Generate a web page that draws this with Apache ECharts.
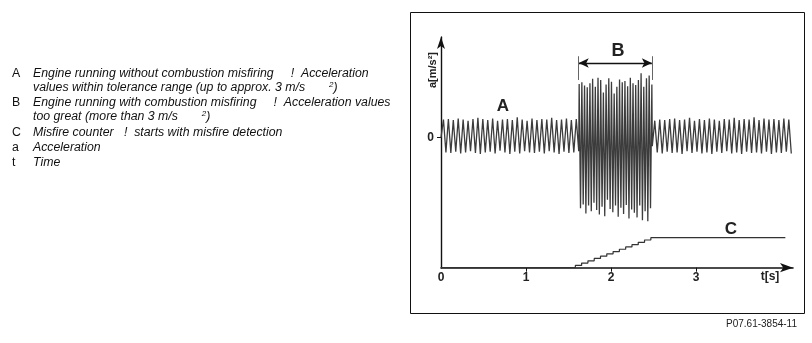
<!DOCTYPE html>
<html>
<head>
<meta charset="utf-8">
<script src="https://cdn.jsdelivr.net/npm/echarts@6/dist/echarts.min.js"></script>
<style>
html,body{margin:0;padding:0;background:#fff;}
#chart{width:812px;height:343px;}
</style>
</head>
<body>
<div id="chart"></div>
<script>
// ---- data ----
const xTickLabels = [0, 1, 2, 3];
const yTickLabels = [0];

// acceleration, segment A (engine running without misfiring), 0 .. 1.62 s
const segA = {start: 0, end: 1.62};
const accelA = [0, 3.2, -2.6, 3.3, -2.7, 3.1, -2.5, 3.4, -2.8, 3.2, -2.6, 3.0, -2.4, 3.3, -2.7, 3.5,
  -2.9, 3.3, -2.6, 3.1, -2.5, 3.4, -2.8, 3.0, -2.3, 3.2, -2.6, 3.3, -2.9, 3.1, -2.5, 3.6, -2.8,
  3.2, -2.4, 3.0, -2.6, 3.4, -2.7, 3.1, -2.5, 3.3, -2.8, 3.2, -2.4, 3.5, -2.6, 3.1, -2.9, 3.2,
  -2.5, 3.4, -2.7, 3.1, -2.6, 3.3, -2.4];
// acceleration, segment B (misfiring), 1.625 .. 2.48 s
const segB = {start: 1.625, end: 2.48};
const accelB = [9.5, -12.5, 9.8, -11.8, 9.2, -13.4, 8.9, -12.0, 9.6, -13.0, 10.4, -11.5, 9.0, -12.8,
  10.6, -13.6, 10.2, -12.2, 8.0, -13.9, 9.4, -11.0, 10.5, -12.6, 9.9, -13.2, 7.8, -12.0, 9.0,
  -14.0, 10.3, -12.4, 9.8, -13.5, 10.0, -11.9, 9.1, -14.3, 10.6, -12.7, 9.6, -13.3, 9.3, -14.1,
  10.2, -12.0, 11.4, -14.6, 9.0, -13.0, 10.5, -14.8, 11.0, -12.5, 9.4];
// acceleration, after misfiring, 2.485 .. 4.12 s
const segD = {start: 2.485, end: 4.12};
const accelD = [-1.5, 3.0, -2.6, 3.2, -2.8, 3.1, -2.5, 3.3, -2.7, 3.4, -2.6, 3.1, -2.9, 3.2, -2.4,
  3.5, -2.7, 3.0, -2.5, 3.3, -2.8, 3.1, -2.6, 3.4, -2.9, 3.2, -2.5, 3.0, -2.7, 3.3, -2.4, 3.2,
  -2.8, 3.5, -2.6, 3.1, -2.9, 3.3, -2.5, 3.2, -2.7, 3.6, -2.6, 3.1, -2.8, 3.4, -2.5, 3.2, -2.9,
  3.3, -2.6, 3.1, -2.7, 3.4, -2.5, 3.2, -2.8];

// misfire counter (C)
const counterT = [0, 1.58, 1.654, 1.728, 1.802, 1.876, 1.95, 2.024, 2.098, 2.172, 2.246, 2.32, 2.394, 2.468, 4.05];
const counterN = [0, 1, 2, 3, 4, 5, 6, 7, 8, 9, 10, 11, 12, 13, 13];

// B span marker
const spanB = [1.62, 2.48];

// ---- build ----
function seg(s, vals) {
  const n = vals.length - 1;
  return vals.map((v, i) => [s.start + (s.end - s.start) * i / n, v]);
}
const accelData = seg(segA, accelA).concat(seg(segB, accelB), seg(segD, accelD));
const counterData = counterT.map((t, i) => [t, counterN[i]]);

const FONT = "'Liberation Sans', Arial, Helvetica, sans-serif";
const chart = echarts.init(document.getElementById('chart'), null, {renderer: 'canvas'});

const legendLines = [
  {key: 'A', y: 74, rich: '{n|Engine running without combustion misfiring     !  Acceleration}'},
  {key: '', y: 88, rich: '{n|values within tolerance range (up to approx. 3 m/s       }{s|2}{n|)}'},
  {key: 'B', y: 103, rich: '{n|Engine running with combustion misfiring     !  Acceleration values}'},
  {key: '', y: 117, rich: '{n|too great (more than 3 m/s       }{s|2}{n|)}'},
  {key: 'C', y: 133, rich: '{n|Misfire counter   !  starts with misfire detection}'},
  {key: 'a', y: 148, rich: '{n|Acceleration}'},
  {key: 't', y: 163, rich: '{n|Time}'}
];
const graphics = [
  {type: 'rect', shape: {x: 410.5, y: 12.5, width: 394, height: 301}, style: {fill: 'none', stroke: '#111', lineWidth: 1}, silent: true},
  {type: 'text', x: 797, y: 324, style: {text: 'P07.61-3854-11', font: "10px " + FONT, fill: '#222', textAlign: 'right', textVerticalAlign: 'middle'}},
  {type: 'text', x: 433, y: 70, rotation: Math.PI / 2, style: {text: 'a[m/s²]', font: "bold 11px " + FONT, fill: '#222', textAlign: 'center', textVerticalAlign: 'middle'}},
  {type: 'text', x: 770, y: 277, style: {text: 't[s]', font: "bold 12px " + FONT, fill: '#222', textAlign: 'center', textVerticalAlign: 'middle'}},
  {type: 'text', x: 503, y: 106, style: {text: 'A', font: "bold 17px " + FONT, fill: '#222', textAlign: 'center', textVerticalAlign: 'middle'}},
  {type: 'text', x: 618, y: 51, style: {text: 'B', font: "bold 18px " + FONT, fill: '#222', textAlign: 'center', textVerticalAlign: 'middle'}},
  {type: 'text', x: 731, y: 229, style: {text: 'C', font: "bold 17px " + FONT, fill: '#222', textAlign: 'center', textVerticalAlign: 'middle'}}
];
legendLines.forEach(l => {
  if (l.key) graphics.push({type: 'text', x: 12, y: l.y, style: {text: l.key, font: "12.3px " + FONT, fill: '#111', textVerticalAlign: 'middle'}});
  graphics.push({type: 'text', x: 33, y: l.y, style: {
    text: l.rich, textVerticalAlign: 'middle',
    rich: {
      n: {font: "italic 12.3px " + FONT, fill: '#111', lineHeight: 14},
      s: {font: "italic 8px " + FONT, fill: '#111', verticalAlign: 'top', lineHeight: 14, padding: [0, 0, 4, 0]}
    }
  }});
});

chart.setOption({
  animation: false,
  backgroundColor: '#fff',
  grid: {left: 441, top: 37, width: 352, height: 230.7, containLabel: false},
  xAxis: {
    type: 'value', min: 0, max: 4.14,
    axisLine: {onZero: false, symbol: ['none', 'arrow'], symbolSize: [7, 13], lineStyle: {color: '#111', width: 1.6}},
    axisTick: {show: true, customValues: [1, 2, 3], length: 4, lineStyle: {color: '#111', width: 1}},
    axisLabel: {customValues: xTickLabels, margin: 4, color: '#222', fontFamily: FONT, fontWeight: 'bold', fontSize: 12},
    splitLine: {show: false}
  },
  yAxis: [
    {
      type: 'value', min: -23, max: 17.8,
      axisLine: {show: true, onZero: false, symbol: ['none', 'arrow'], symbolSize: [6, 12], lineStyle: {color: '#111', width: 1.4}},
      axisTick: {show: true, customValues: yTickLabels, length: 4, lineStyle: {color: '#111'}},
      axisLabel: {customValues: yTickLabels, margin: 7, color: '#222', fontFamily: FONT, fontWeight: 'bold', fontSize: 12},
      splitLine: {show: false}
    },
    {type: 'value', min: 0, max: 100, show: false}
  ],
  series: [
    {
      type: 'line', name: 'a', data: accelData, showSymbol: false, symbol: 'none',
      lineStyle: {color: '#3c3c3c', width: 1.3}, z: 3,
      markLine: {
        silent: true, symbol: ['arrow', 'arrow'], symbolSize: [7, 10],
        label: {show: false},
        lineStyle: {color: '#111', width: 1.4, type: 'solid'},
        data: [
          [{coord: [spanB[0], 13.2]}, {coord: [spanB[1], 13.2]}],
          [{coord: [spanB[0], 14.4], symbol: 'none'}, {coord: [spanB[0], 10.2], symbol: 'none', lineStyle: {color: '#666', width: 1}}],
          [{coord: [spanB[1], 14.4], symbol: 'none'}, {coord: [spanB[1], 10.2], symbol: 'none', lineStyle: {color: '#666', width: 1}}]
        ]
      }
    },
    {
      type: 'line', name: 'C', yAxisIndex: 1, data: counterData, step: 'end', showSymbol: false, symbol: 'none',
      lineStyle: {color: '#333', width: 1.2}, z: 2
    }
  ],
  graphic: graphics
});
</script>
</body>
</html>
